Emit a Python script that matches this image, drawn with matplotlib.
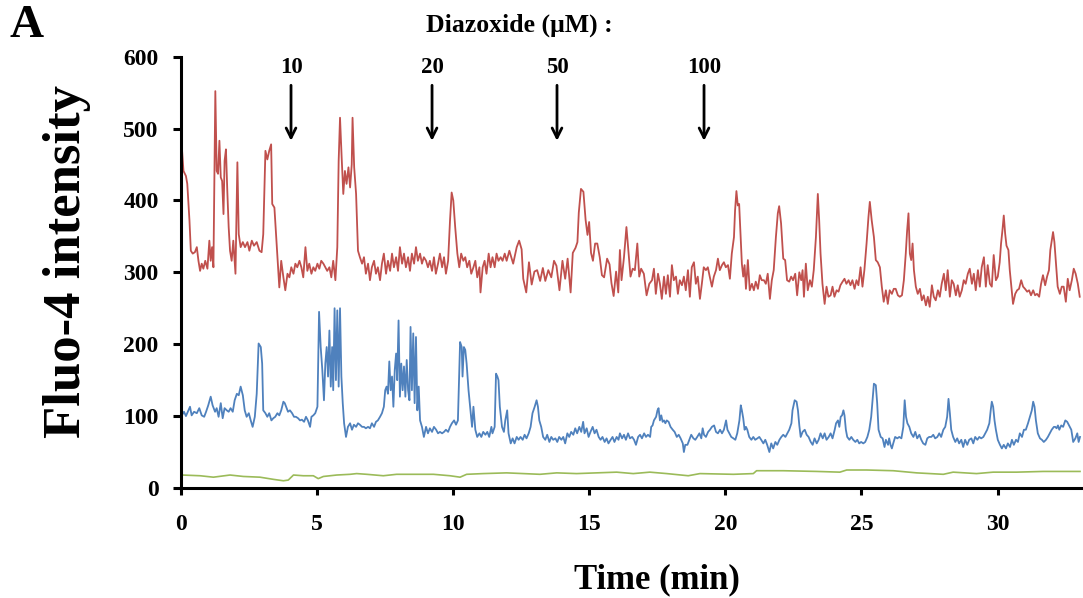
import matplotlib.pyplot as plt


# ============================================================
# Fluo-4 traces (time in min, intensity in a.u.)
# ============================================================

red_t = [
    0.04, 0.10, 0.19, 0.24, 0.32, 0.37, 0.44, 0.52, 0.59, 0.65, 0.71, 0.77, 0.83, 0.90, 0.98,
    1.05, 1.10, 1.15, 1.20, 1.27, 1.32, 1.37, 1.42, 1.47, 1.52, 1.57, 1.61, 1.66, 1.71, 1.76,
    1.81, 1.87, 1.93, 2.01, 2.08, 2.13, 2.20, 2.28, 2.36, 2.45, 2.52, 2.61, 2.69, 2.79, 2.89,
    2.97, 3.03, 3.11, 3.18, 3.25, 3.32, 3.36, 3.44, 3.50, 3.56, 3.62, 3.69, 3.77, 3.84, 3.92,
    3.99, 4.06, 4.14, 4.21, 4.28, 4.36, 4.43, 4.50, 4.58, 4.65, 4.72, 4.80, 4.87, 4.94, 5.02,
    5.09, 5.16, 5.24, 5.31, 5.38, 5.46, 5.53, 5.60, 5.68, 5.75, 5.80, 5.85, 5.91, 5.97, 6.03,
    6.09, 6.16, 6.22, 6.28, 6.31, 6.37, 6.44, 6.51, 6.58, 6.66, 6.73, 6.80, 6.88, 6.95, 7.02,
    7.10, 7.17, 7.24, 7.32, 7.39, 7.46, 7.54, 7.61, 7.69, 7.76, 7.83, 7.91, 7.98, 8.05, 8.13,
    8.20, 8.27, 8.35, 8.42, 8.49, 8.57, 8.64, 8.71, 8.79, 8.86, 8.93, 9.01, 9.08, 9.15, 9.23,
    9.30, 9.37, 9.45, 9.52, 9.60, 9.67, 9.74, 9.82, 9.89, 9.95, 10.01, 10.08, 10.16, 10.23, 10.30,
    10.38, 10.45, 10.52, 10.60, 10.67, 10.75, 10.82, 10.89, 10.97, 11.01, 11.09, 11.16, 11.23, 11.31, 11.38,
    11.45, 11.53, 11.60, 11.67, 11.75, 11.82, 11.90, 11.97, 12.07, 12.14, 12.21, 12.34, 12.43,
    12.52, 12.58, 12.69, 12.79, 12.89, 12.99, 13.09, 13.20, 13.30, 13.39, 13.50, 13.61, 13.71, 13.80, 13.91,
    14.02, 14.12, 14.21, 14.32, 14.40, 14.50, 14.57, 14.62, 14.70, 14.79, 14.87, 14.94, 15.00, 15.07, 15.14,
    15.22, 15.30, 15.39, 15.47, 15.55, 15.66, 15.75, 15.82, 15.90, 15.99, 16.07,
    16.13, 16.19, 16.28, 16.37, 16.45, 16.52, 16.60, 16.68, 16.77, 16.84, 16.91, 17.01, 17.11, 17.21, 17.31,
    17.38, 17.45, 17.53, 17.60, 17.67, 17.75, 17.82, 17.89, 17.97, 18.04, 18.11, 18.19, 18.26, 18.33, 18.41,
    18.48, 18.55, 18.63, 18.70, 18.77, 18.85, 18.92, 18.99, 19.07, 19.14, 19.21, 19.29, 19.36, 19.43, 19.51,
    19.58, 19.66, 19.73, 19.80, 19.88, 19.95, 20.02, 20.10, 20.17, 20.24, 20.32, 20.36, 20.41, 20.46, 20.51,
    20.56, 20.61, 20.66, 20.71, 20.76, 20.83, 20.90, 20.98, 21.05, 21.12, 21.20, 21.27, 21.34, 21.42, 21.49,
    21.56, 21.64, 21.71, 21.78, 21.86, 21.93, 21.98, 22.05, 22.13, 22.20, 22.27, 22.35, 22.42, 22.49, 22.57,
    22.64, 22.72, 22.79, 22.84, 22.89, 22.96, 23.03, 23.11, 23.18, 23.25, 23.33, 23.40, 23.45, 23.50, 23.57,
    23.65, 23.72, 23.79, 23.87, 23.94, 24.01, 24.09, 24.16, 24.23, 24.31, 24.38, 24.45, 24.53, 24.60, 24.67,
    24.75, 24.82, 24.89, 24.97, 25.04, 25.11, 25.19, 25.26, 25.31, 25.38, 25.46, 25.53, 25.60, 25.68, 25.75,
    25.82, 25.90, 25.97, 26.04, 26.12, 26.19, 26.26, 26.34, 26.41, 26.49, 26.56, 26.63, 26.68, 26.73, 26.78,
    26.83, 26.88, 26.93, 27.00, 27.07, 27.15, 27.22, 27.29, 27.37, 27.44, 27.51, 27.59, 27.66, 27.73, 27.81,
    27.88, 27.95, 28.03, 28.10, 28.17, 28.25, 28.32, 28.39, 28.47, 28.54, 28.61, 28.69, 28.76, 28.83, 28.91,
    28.98, 29.06, 29.13, 29.20, 29.28, 29.35, 29.42, 29.50, 29.57, 29.64, 29.72, 29.79, 29.86, 29.94, 30.01,
    30.08, 30.13, 30.18, 30.23, 30.28, 30.33, 30.40, 30.45, 30.52, 30.57, 30.65, 30.72, 30.79, 30.87, 30.94,
    31.01, 31.09, 31.16, 31.23, 31.31, 31.38, 31.45, 31.53, 31.60, 31.67, 31.75, 31.82, 31.89, 31.94, 31.99,
    32.04, 32.09, 32.14, 32.21, 32.29, 32.36, 32.43, 32.51, 32.58, 32.65, 32.73, 32.80, 32.87, 32.95, 33.02,
]
red_v = [
    474, 441, 434, 423, 372, 330, 326, 328, 335, 316, 302, 312, 305, 316, 305,
    344, 316, 335, 307, 552, 441, 437, 483, 432, 427, 381, 455, 471, 413, 363,
    330, 316, 344, 298, 453, 353, 335, 342, 335, 342, 330, 344, 337, 342, 330,
    328, 353, 469, 457, 469, 478, 395, 390, 353, 316, 279, 316, 293, 275, 298,
    293, 307, 298, 312, 307, 316, 307, 293, 335, 302, 312, 298, 307, 302, 312,
    305, 316, 312, 307, 302, 307, 293, 316, 289, 335, 455, 515, 460, 409, 441,
    423, 446, 418, 450, 515, 446, 409, 330, 321, 312, 321, 298, 312, 289, 307,
    316, 298, 307, 289, 312, 326, 298, 316, 302, 326, 307, 321, 302, 335, 312,
    326, 307, 321, 302, 326, 312, 335, 316, 326, 312, 321, 316, 307, 316, 302,
    321, 298, 312, 326, 307, 321, 298, 316, 372, 411, 400, 363, 326, 307, 326,
    316, 321, 307, 316, 298, 307, 316, 293, 307, 272, 307, 316, 298, 326, 307,
    321, 307, 326, 316, 321, 316, 326, 316, 330, 321, 312, 335, 344,
    332, 291, 272, 314, 283, 301, 303, 288, 306, 288, 303, 293, 316, 309, 275,
    316, 291, 319, 272, 327, 334, 342, 383, 416, 412, 373, 352, 370, 327, 316,
    340, 340, 321, 296, 293, 319, 311, 285, 267, 301, 272,
    331, 289, 321, 363, 326, 294, 305, 303, 340, 294, 305, 298, 268, 284, 289,
    305, 270, 298, 284, 263, 294, 270, 296, 266, 310, 289, 294, 270, 289, 282,
    294, 275, 303, 266, 307, 314, 284, 294, 263, 284, 307, 303, 307, 294, 280,
    294, 303, 319, 303, 310, 314, 307, 310, 291, 326, 349, 386, 413, 393, 395,
    354, 312, 294, 310, 277, 317, 275, 284, 275, 287, 277, 296, 289, 289, 284,
    298, 263, 289, 303, 349, 382, 392, 368, 319, 317, 289, 287, 294, 289, 298,
    268, 300, 289, 303, 266, 312, 275, 289, 280, 303, 349, 409, 372, 326, 284,
    256, 280, 266, 268, 280, 266, 275, 273, 282, 287, 291, 284, 289, 282, 289,
    277, 289, 282, 307, 280, 303, 340, 377, 398, 372, 349, 317, 314, 307, 280,
    259, 275, 256, 275, 270, 277, 277, 268, 266, 268, 289, 326, 358, 382, 326,
    317, 340, 303, 280, 270, 277, 261, 268, 254, 266, 252, 282, 266, 261, 275,
    266, 284, 298, 275, 303, 266, 289, 284, 268, 282, 266, 275, 289, 284, 298,
    305, 284, 298, 275, 303, 280, 307, 321, 280, 310, 284, 280, 324, 289, 294,
    314, 340, 358, 379, 354, 337, 331, 303, 275, 256, 270, 275, 277, 289, 280,
    277, 273, 275, 268, 275, 268, 270, 266, 284, 296, 282, 294, 303, 331, 344,
    356, 342, 317, 280, 270, 280, 280, 259, 291, 275, 289, 305, 298, 284, 266,
]

blue_t = [
    0.04, 0.12, 0.19, 0.28, 0.34, 0.40, 0.49, 0.59, 0.68, 0.77, 0.86, 0.93, 1.01, 1.10, 1.17,
    1.26, 1.32, 1.39, 1.47, 1.54, 1.61, 1.69, 1.76, 1.83, 1.91, 1.98, 2.06, 2.13, 2.20, 2.28,
    2.35, 2.42, 2.50, 2.57, 2.64, 2.72, 2.79, 2.86, 2.94, 2.99, 3.03, 3.11, 3.18, 3.25, 3.33,
    3.40, 3.47, 3.55, 3.62, 3.69, 3.77, 3.82, 3.87, 3.94, 4.01, 4.09, 4.16, 4.23, 4.31, 4.38,
    4.45, 4.53, 4.60, 4.67, 4.75, 4.80, 4.87, 4.94, 5.02, 5.08, 5.14, 5.20, 5.26, 5.31, 5.36,
    5.41, 5.46, 5.51, 5.56, 5.60, 5.65, 5.70, 5.75, 5.80, 5.85, 5.90, 5.95, 6.00, 6.07, 6.14,
    6.22, 6.29, 6.36, 6.44, 6.51, 6.58, 6.66, 6.73, 6.80, 6.88, 6.95, 7.02, 7.10, 7.17, 7.24,
    7.32, 7.39, 7.46, 7.51, 7.56, 7.61, 7.66, 7.71, 7.76, 7.81, 7.86, 7.91, 7.95, 8.00, 8.05,
    8.10, 8.15, 8.20, 8.25, 8.30, 8.35, 8.40, 8.44, 8.49, 8.54, 8.59, 8.64, 8.69, 8.74, 8.79,
    8.86, 8.93, 9.01, 9.08, 9.15, 9.23, 9.30, 9.38, 9.45, 9.52, 9.60, 9.67, 9.74, 9.82, 9.89,
    9.96, 10.04, 10.11, 10.18, 10.26, 10.32, 10.35, 10.40, 10.45, 10.50, 10.57, 10.65, 10.70, 10.75, 10.82,
    10.89, 10.97, 11.04, 11.11, 11.19, 11.26, 11.33, 11.41, 11.45, 11.53, 11.58, 11.63, 11.67, 11.72, 11.80,
    11.87, 11.92, 11.99, 12.04, 12.12, 12.19, 12.26, 12.34, 12.41, 12.48, 12.56, 12.63, 12.70, 12.78, 12.85,
    12.92, 13.00, 13.07, 13.12, 13.17, 13.24, 13.31, 13.39, 13.46, 13.54, 13.61, 13.68, 13.76, 13.83, 13.90,
    13.98, 14.05, 14.12, 14.20, 14.27, 14.34, 14.42, 14.49, 14.56, 14.64, 14.71, 14.78, 14.83, 14.91, 14.98,
    15.05, 15.13, 15.20, 15.27, 15.35, 15.42, 15.49, 15.57, 15.64, 15.71, 15.79, 15.86, 15.93, 16.01, 16.08,
    16.13, 16.21, 16.28, 16.35, 16.43, 16.50, 16.58, 16.65, 16.72, 16.80, 16.87, 16.94, 17.02, 17.09, 17.16,
    17.24, 17.28, 17.33, 17.38, 17.46, 17.51, 17.55, 17.60, 17.65, 17.70, 17.75, 17.80, 17.85, 17.92, 17.99,
    18.07, 18.14, 18.22, 18.29, 18.36, 18.44, 18.48, 18.53, 18.61, 18.68, 18.75, 18.83, 18.90, 18.97, 19.05,
    19.12, 19.17, 19.22, 19.29, 19.37, 19.44, 19.51, 19.59, 19.66, 19.73, 19.81, 19.88, 19.95, 20.03, 20.08,
    20.15, 20.22, 20.30, 20.37, 20.44, 20.52, 20.57, 20.61, 20.66, 20.71, 20.76, 20.81, 20.88, 20.96, 21.03,
    21.10, 21.18, 21.25, 21.32, 21.40, 21.47, 21.54, 21.62, 21.69, 21.76, 21.84, 21.91, 21.99, 22.06, 22.13,
    22.21, 22.28, 22.35, 22.43, 22.47, 22.55, 22.62, 22.67, 22.72, 22.77, 22.84, 22.92, 22.99, 23.06, 23.14,
    23.21, 23.28, 23.36, 23.43, 23.50, 23.58, 23.65, 23.72, 23.80, 23.87, 23.94, 24.02, 24.07, 24.14, 24.19,
    24.24, 24.29, 24.34, 24.38, 24.43, 24.48, 24.56, 24.63, 24.70, 24.78, 24.85, 24.92, 24.99, 25.07, 25.14,
    25.22, 25.29, 25.36, 25.41, 25.46, 25.53, 25.58, 25.63, 25.71, 25.78, 25.85, 25.90, 25.98, 26.02, 26.07,
    26.12, 26.17, 26.24, 26.32, 26.39, 26.47, 26.54, 26.59, 26.64, 26.69, 26.76, 26.83, 26.91, 26.98, 27.05,
    27.13, 27.20, 27.27, 27.35, 27.42, 27.49, 27.57, 27.64, 27.71, 27.79, 27.86, 27.93, 28.01, 28.08, 28.15,
    28.20, 28.25, 28.30, 28.37, 28.45, 28.52, 28.59, 28.67, 28.74, 28.81, 28.89, 28.96, 29.04, 29.11, 29.18,
    29.26, 29.33, 29.40, 29.48, 29.55, 29.62, 29.70, 29.75, 29.79, 29.84, 29.89, 29.94, 30.01, 30.09, 30.16,
    30.23, 30.31, 30.38, 30.46, 30.53, 30.60, 30.68, 30.75, 30.82, 30.90, 30.97, 31.04, 31.12, 31.19, 31.26,
    31.31, 31.36, 31.41, 31.48, 31.56, 31.63, 31.70, 31.78, 31.85, 31.92, 31.99, 32.07, 32.12, 32.17, 32.22,
    32.27, 32.34, 32.41, 32.49, 32.56, 32.63, 32.71, 32.78, 32.86, 32.93, 32.98, 33.03,
]
blue_v = [
    101, 106, 100, 108, 113, 101, 106, 104, 111, 101, 99, 106, 115, 127, 115,
    106, 111, 99, 118, 97, 111, 108, 106, 111, 106, 122, 131, 129, 141, 129,
    108, 99, 104, 94, 85, 99, 131, 201, 196, 173, 108, 104, 99, 104, 94,
    97, 99, 104, 101, 108, 120, 118, 113, 106, 108, 104, 99, 99, 97, 94,
    95, 92, 99, 94, 85, 99, 101, 104, 113, 245, 196, 164, 122, 173, 196,
    155, 219, 141, 196, 136, 250, 150, 247, 141, 250, 155, 118, 90, 71, 85,
    90, 81, 88, 85, 90, 88, 85, 85, 83, 85, 83, 90, 85, 92, 94,
    99, 104, 113, 136, 141, 131, 176, 136, 155, 113, 164, 187, 150, 233, 127,
    173, 136, 169, 127, 178, 136, 122, 224, 136, 215, 118, 210, 108, 141, 94,
    85, 71, 85, 76, 83, 78, 85, 81, 76, 78, 76, 78, 81, 78, 85,
    90, 94, 88, 94, 203, 196, 155, 196, 192, 173, 136, 104, 85, 113, 81,
    71, 76, 71, 78, 74, 78, 71, 85, 76, 85, 159, 155, 150, 113, 85,
    78, 94, 108, 76, 62, 69, 62, 71, 67, 71, 67, 74, 69, 76, 85,
    104, 113, 122, 113, 94, 85, 71, 67, 74, 64, 71, 67, 69, 64, 71,
    67, 71, 62, 76, 71, 78, 74, 83, 76, 85, 78, 92, 76, 83, 71,
    78, 85, 76, 81, 71, 67, 71, 64, 69, 62, 67, 71, 64, 71, 67,
    76, 69, 74, 67, 76, 69, 71, 67, 60, 71, 74, 69, 76, 71, 74,
    71, 85, 87, 94, 99, 108, 111, 94, 101, 92, 94, 90, 94, 92, 85,
    81, 78, 71, 74, 69, 62, 50, 60, 60, 67, 74, 69, 67, 71, 76,
    69, 83, 74, 71, 78, 81, 85, 87, 78, 76, 81, 76, 81, 94, 81,
    76, 71, 69, 67, 76, 94, 115, 108, 97, 81, 85, 81, 71, 67, 71,
    67, 69, 71, 67, 62, 67, 60, 50, 62, 55, 64, 60, 67, 71, 74,
    71, 76, 81, 90, 108, 122, 120, 108, 87, 71, 78, 81, 74, 71, 64,
    60, 69, 62, 67, 76, 69, 76, 67, 71, 76, 69, 81, 90, 94, 85,
    99, 101, 108, 101, 81, 71, 67, 71, 67, 64, 67, 62, 64, 62, 64,
    71, 81, 99, 122, 145, 143, 118, 81, 71, 69, 57, 67, 60, 69, 60,
    55, 62, 71, 69, 71, 69, 85, 122, 99, 90, 85, 76, 71, 78, 69,
    74, 67, 62, 60, 69, 71, 71, 74, 69, 71, 76, 71, 81, 85, 99,
    124, 104, 81, 71, 64, 69, 62, 67, 57, 67, 60, 67, 69, 62, 71,
    67, 71, 69, 71, 76, 81, 90, 108, 120, 113, 94, 81, 67, 60, 55,
    60, 55, 62, 57, 67, 60, 67, 64, 76, 71, 81, 81, 90, 99, 108,
    120, 113, 94, 76, 69, 67, 64, 67, 71, 76, 81, 85, 85, 83, 87,
    81, 87, 85, 94, 92, 87, 81, 64, 69, 76, 64, 71,
]

green_t = [
    0.05, 0.71, 1.20, 1.81, 2.30, 2.91, 3.40, 3.77, 3.95, 4.14, 4.50, 4.87, 5.05, 5.24, 5.73,
    6.22, 6.46, 6.83, 7.44, 7.93, 8.67, 9.28, 9.89, 10.26, 10.50, 11.11, 11.97, 12.58, 13.19, 13.81,
    14.54, 15.27, 16.01, 16.62, 17.23, 17.85, 18.64, 19.07, 20.30, 21.03, 21.15, 22.13, 23.36, 24.21, 24.46,
    25.19, 26.17, 27.03, 28.01, 28.37, 29.23, 29.84, 30.70, 31.68, 33.03,
]
green_v = [
    18, 17, 15, 18, 16, 15, 12, 10, 11, 18, 17, 17, 13, 16, 18,
    19, 20, 19, 17, 19, 19, 19, 17, 15, 19, 20, 21, 20, 19, 21,
    20, 21, 22, 20, 22, 20, 17, 20, 19, 20, 24, 24, 23, 22, 25,
    25, 24, 21, 19, 22, 20, 22, 22, 23, 23,
]

# Diazoxide additions (concentration in uM, time in min)
dose_labels = ["10", "20", "50", "100"]
dose_times = [4.05, 9.23, 13.82, 19.22]

x_ticks = [0, 5, 10, 15, 20, 25, 30]
y_ticks = [0, 100, 200, 300, 400, 500, 600]


# ============================================================
# Style
# ============================================================

plt.rcParams.update({
    "font.family": ["Liberation Serif", "DejaVu Serif"],
    "font.weight": "bold",
})

RED = "#C0504D"
BLUE = "#4F81BD"
GREEN = "#9BBB59"


# ============================================================
# Plot
# ============================================================

fig = plt.figure(figsize=(10.83, 5.98), dpi=100)
ax = fig.add_axes([0.1669, 0.184, 0.8331, 0.7213])

ax.plot(green_t, green_v, color=GREEN, linewidth=1.2)
ax.plot(blue_t, blue_v, color=BLUE, linewidth=1.3)
ax.plot(red_t, red_v, color=RED, linewidth=1.3)

ax.set_xlim(0, 33.14)
ax.set_ylim(0, 600)
ax.set_xticks(x_ticks)
ax.set_yticks(y_ticks)

for side in ["top", "right"]:
    ax.spines[side].set_visible(False)
for side in ["left", "bottom"]:
    ax.spines[side].set_linewidth(2.2)

ax.tick_params(axis="y", direction="out", length=6, width=2.2, labelsize=17, pad=10)
ax.tick_params(axis="x", direction="out", length=5, width=2.2, labelsize=17, pad=14)

ax.set_xlabel("Time (min)", fontsize=25, fontweight="bold")
ax.xaxis.set_label_coords(0.528, -0.213)
ax.xaxis.label.set_verticalalignment("center")

ax.set_ylabel("Fluo-4 intensity", fontsize=38, fontweight="bold")
ax.yaxis.set_label_coords(-0.126, 0.524)
ax.yaxis.label.set_verticalalignment("center")

# drug addition arrows
for label, t in zip(dose_labels, dose_times):
    ax.annotate(
        "",
        xy=(t, 479),
        xytext=(t, 564),
        arrowprops=dict(arrowstyle="->,head_length=0.7,head_width=0.35",
                        color="black", linewidth=2),
        annotation_clip=False,
    )
    ax.text(t, 585, label, ha="center", va="center", fontsize=16.5, fontweight="bold")

ax.text(12.42, 643, "Diazoxide (\u03bcM) :", ha="center", va="center",
        fontsize=18.5, fontweight="bold", clip_on=False)

fig.text(26.5 / 1083, 1 - 26 / 598, "A", ha="center", va="center",
         fontsize=34, fontweight="bold")

fig.savefig("out.png", dpi=100)
